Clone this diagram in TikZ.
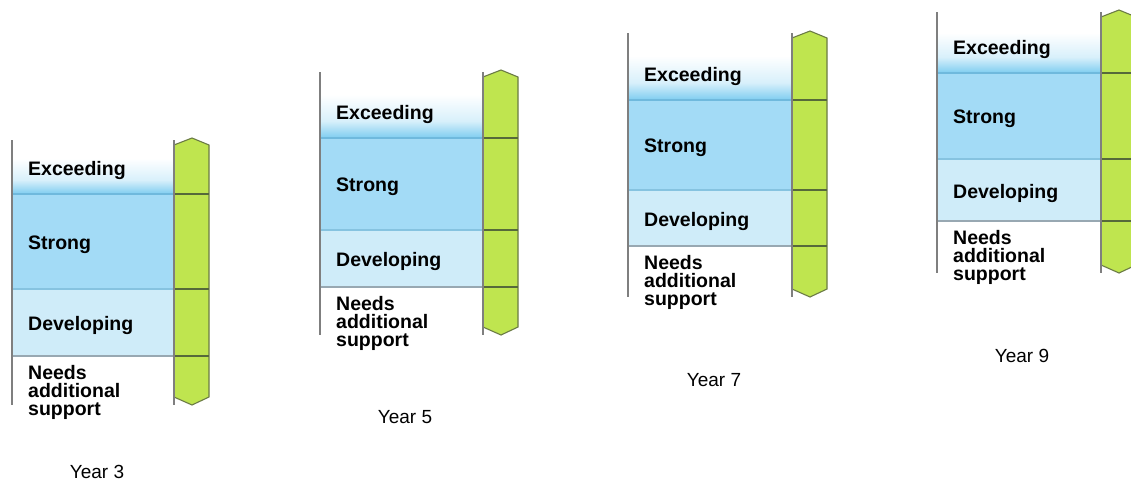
\documentclass[tikz,border=0pt]{standalone}
\usepackage{fontspec}
\setmainfont{Liberation Sans}
\definecolor{strongc}{HTML}{A3DBF6}
\definecolor{devc}{HTML}{CFECF9}
\definecolor{excB}{HTML}{7ECDF0}
\definecolor{excM}{HTML}{D8F0FB}
\definecolor{greenc}{HTML}{BFE54F}
\definecolor{gborder}{HTML}{6B7B45}
\definecolor{glinec}{HTML}{56693A}
\definecolor{grayc}{HTML}{7F7F7F}
\definecolor{exclinec}{HTML}{6FB9DD}
\definecolor{strlinec}{HTML}{86C3E0}
\definecolor{devlinec}{HTML}{98A8B2}
\pgfdeclareverticalshading{excshade}{100bp}{color(0bp)=(excB); color(25bp)=(excB); color(38bp)=(excM); color(58bp)=(white); color(75bp)=(white); color(100bp)=(white)}
\tikzset{
  lvl/.style={anchor=west, inner sep=0pt, font=\bfseries\fontsize{19.5}{18}\selectfont},
  needs/.style={anchor=north west, inner sep=0pt, align=left, font=\bfseries\fontsize{19.5}{18}\selectfont},
  yearlbl/.style={inner sep=0pt, font=\fontsize{19}{22}\selectfont},
  greenbar/.style={fill=greenc, draw=gborder, line width=1.1pt, line join=miter},
  gline/.style={draw=glinec, line width=1.1pt},
  grayline/.style={draw=grayc, line width=1.3pt}
}
\begin{document}
\begin{tikzpicture}[x=1pt,y=-1pt]
\clip (0,0) rectangle (1131,482);
\fill[white] (0,0) rectangle (1131,482);
\foreach \L/\T/\a/\b/\c/\B/\G/\yx/\yy/\yr/\n in {
  12/140/194/289/356/405/174/97/472/3/one,
  320/72/138/230/287/335/483/405/417/5/two,
  628/33/100/190/246/297/792/714/380/7/three,
  937/12/73/159/221/273/1101/1022/356/9/four}{
  % bands
  \shade[shading=excshade] (\L,\T) rectangle (\G,\a);
  \fill[strongc] (\L,\a) rectangle (\G,\b);
  \fill[devc] (\L,\b) rectangle (\G,\c);
  \draw[exclinec, line width=1.1pt] (\L,\a) -- (\G,\a);
  \draw[strlinec, line width=1.1pt] (\L,\b) -- (\G,\b);
  \draw[devlinec, line width=1.1pt] (\L,\c) -- (\G,\c);
  % green bar
  \draw[greenbar] (\G,\T+5) -- (\G+18,\T-2) -- (\G+35,\T+5) -- (\G+35,\B-8) -- (\G+18,\B) -- (\G,\B-8) -- cycle;
  \draw[gline] (\G,\a) -- (\G+35,\a);
  \draw[gline] (\G,\b) -- (\G+35,\b);
  \draw[gline] (\G,\c) -- (\G+35,\c);
  % vertical rules
  \draw[grayline] (\L,\T) -- (\L,\B);
  \draw[grayline] (\G,\T) -- (\G,\B);
  % labels
  \node[lvl] (exc\n) at (\L+16,\a-24) {Exceeding};
  \node[lvl] (str\n) at (\L+16,{(\a+\b)/2+3}) {Strong};
  \node[lvl] (dev\n) at (\L+16,{(\b+\c)/2+3}) {Developing};
  \node[needs] (need\n) at (\L+16,\c+9) {Needs\\additional\\support};
  \node[yearlbl] (year\n) at (\yx,\yy) {Year \yr};
}
\end{tikzpicture}
\end{document}
